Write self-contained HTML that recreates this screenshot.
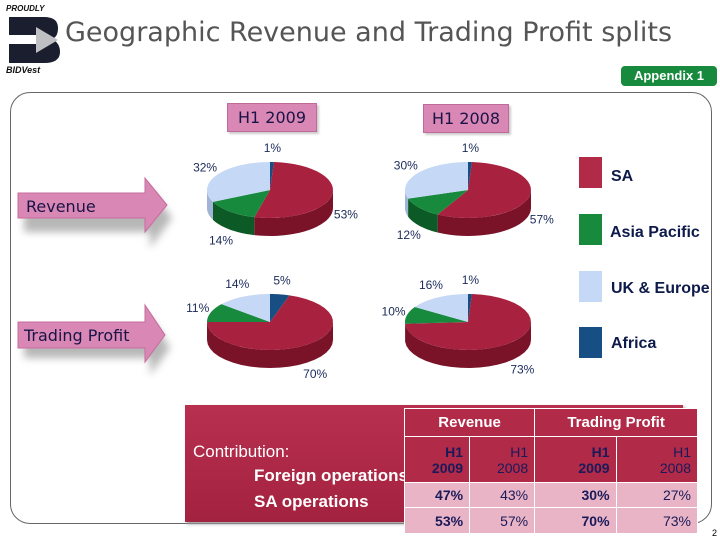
<!DOCTYPE html>
<html><head><meta charset="utf-8"><style>
body{margin:0;width:720px;height:540px;background:#fff;position:relative;overflow:hidden;font-family:"Liberation Sans",sans-serif}
.abs{position:absolute}
.tag{position:absolute;background:#d987b4;border:1px solid #c06a98;color:#1a1446;font-family:"DejaVu Sans",sans-serif;font-size:16px;text-align:center;box-shadow:2px 2px 2px #ccc}
table{border-collapse:collapse}
td{border:1px solid #fff;font-size:14px;color:#1a1a5a;text-align:right;padding:0 6px}
</style></head><body>
<div class="abs" style="left:6px;top:4px;width:56px;height:72px">
 <div style="font:italic bold 8px 'Liberation Sans';color:#111">PROUDLY</div>
 <svg width="56" height="52" style="display:block"><path d="M3,4 H38 Q52,4 52,15 Q52,24 46,26 Q54,30 54,39 Q54,50 38,50 H3 V31 H30 V22 H3 Z" fill="#1a1e2e"/><polygon points="30,14 52,27 30,40" fill="#bfbfc4"/></svg>
 <div style="font:italic bold 9px 'Liberation Sans';color:#111">BIDVest</div>
</div>
<div class="abs" style="left:65px;top:17px;font-family:'DejaVu Sans',sans-serif;font-size:27px;color:#555;white-space:nowrap">Geographic Revenue and Trading Profit splits</div>
<div class="abs" style="left:621px;top:66px;width:96px;height:20px;background:#178a3e;border-radius:4px;color:#fff;font-weight:bold;font-size:13px;text-align:center;line-height:20px">Appendix 1</div>
<div class="abs" style="left:10px;top:92px;width:700px;height:430px;border:1px solid #666;border-radius:20px"></div>
<div class="tag" style="left:227px;top:103px;width:88px;height:27px;line-height:27px">H1 2009</div>
<div class="tag" style="left:423px;top:104px;width:84px;height:27px;line-height:27px">H1 2008</div>

<svg class="abs" style="left:0;top:0" width="720" height="540">
 <defs><filter id="sh"><feGaussianBlur stdDeviation="4"/></filter></defs>
 <polygon points="24,203 150,203 150,188 172,218 150,248 150,232 24,232" fill="#999" filter="url(#sh)" opacity=".7"/>
 <polygon points="18,193 145,193 145,178 167,205 145,232 145,218 18,218" fill="#d987b4" stroke="#c56d9c"/>
 <polygon points="24,332 150,332 150,316 170,348 150,375 150,358 24,358" fill="#999" filter="url(#sh)" opacity=".7"/>
 <polygon points="18,322 145,322 145,305 165,335 145,362 145,348 18,348" fill="#d987b4" stroke="#c56d9c"/>
</svg>
<div class="abs" style="left:26px;top:197px;font-family:'DejaVu Sans',sans-serif;font-size:16px;color:#1a1446">Revenue</div>
<div class="abs" style="left:24px;top:326px;font-family:'DejaVu Sans',sans-serif;font-size:16px;color:#1a1446">Trading Profit</div>

<svg id="pies" class="abs" style="left:0;top:0" width="720" height="540"></svg>

<div class="abs" style="left:579px;top:157px">
 <div style="position:absolute;top:0;width:23px;height:31px;background:#b12a48"></div>
 <div style="position:absolute;left:32px;top:11px;font-weight:bold;font-size:16px;color:#0d1a4a">SA</div>
 <div style="position:absolute;top:57px;width:23px;height:31px;background:#178a3e"></div>
 <div style="position:absolute;left:31px;top:67px;font-weight:bold;font-size:16px;color:#0d1a4a;white-space:nowrap">Asia Pacific</div>
 <div style="position:absolute;top:114px;width:23px;height:31px;background:#c5d8f5"></div>
 <div style="position:absolute;left:32px;top:123px;font-weight:bold;font-size:16px;color:#0d1a4a;white-space:nowrap">UK &amp; Europe</div>
 <div style="position:absolute;top:170px;width:23px;height:31px;background:#174f85"></div>
 <div style="position:absolute;left:32px;top:178px;font-weight:bold;font-size:16px;color:#0d1a4a">Africa</div>
</div>

<div class="abs" style="left:185px;top:405px;width:498px;height:117px;background:linear-gradient(#b8304f,#a3223f);box-shadow:2px 2px 3px #999">
 <div style="position:absolute;left:8px;top:37px;color:#fff;font-size:17px">Contribution:</div>
 <div style="position:absolute;left:69px;top:61px;color:#fff;font-size:17px;font-weight:bold;white-space:nowrap">Foreign operations</div>
 <div style="position:absolute;left:69px;top:87px;color:#fff;font-size:17px;font-weight:bold">SA operations</div>
</div>
<table class="abs" style="left:404px;top:408px;width:294px">
 <tr style="height:28px;background:#b12a48"><td colspan="2" style="text-align:center;color:#fff;font-weight:bold;font-size:15px">Revenue</td><td colspan="2" style="text-align:center;color:#fff;font-weight:bold;font-size:15px">Trading Profit</td></tr>
 <tr style="height:46px;background:#b12a48"><td style="font-weight:bold">H1<br>2009</td><td>H1<br>2008</td><td style="font-weight:bold">H1<br>2009</td><td>H1<br>2008</td></tr>
 <tr style="height:25px;background:#e9b5c6"><td style="font-weight:bold">47%</td><td>43%</td><td style="font-weight:bold">30%</td><td>27%</td></tr>
 <tr style="height:26px;background:#e9b5c6"><td style="font-weight:bold">53%</td><td>57%</td><td style="font-weight:bold">70%</td><td>73%</td></tr>
</table>
<div class="abs" style="left:712px;top:528px;font-size:9px">2</div>

<script>
// slice order clockwise from 12 o'clock: Africa, SA, Asia Pacific, UK & Europe
const regions = ["Africa","SA","Asia Pacific","UK & Europe"];
const revenue2009 = [1,53,14,32];
const revenue2008 = [1,57,12,30];
const profit2009 = [5,70,11,14];
const profit2008 = [1,73,10,16];
const topCol = ["#174f85","#a8223f","#178a3e","#c5d8f5"];
const sideCol = ["#0e3560","#7a1228","#0c5a26","#9fb4d6"];
const svg = document.getElementById('pies');
const NS = "http://www.w3.org/2000/svg";
function pt(cx,cy,rx,ry,a){return [cx+rx*Math.sin(a), cy-ry*Math.cos(a)];}
function pie(vals,cx,cy,name){
  const rx=63, ry=28, d=18, tot=vals.reduce((a,b)=>a+b,0);
  let a0=0; const sl=[];
  vals.forEach((v,i)=>{const a1=a0+v/tot*2*Math.PI; sl.push([a0,a1,i]); a0=a1;});
  sl.forEach(([s,e,i])=>{
    const lo=Math.max(s,Math.PI/2), hi=Math.min(e,3*Math.PI/2);
    if(hi<=lo) return;
    let p="", n=20;
    for(let k=0;k<=n;k++){const a=lo+(hi-lo)*k/n;const q=pt(cx,cy,rx,ry,a);p+=(k?"L":"M")+q[0]+","+q[1];}
    for(let k=n;k>=0;k--){const a=lo+(hi-lo)*k/n;const q=pt(cx,cy,rx,ry,a);p+="L"+q[0]+","+(q[1]+d);}
    const el=document.createElementNS(NS,'path');
    el.setAttribute('d',p+"Z");el.setAttribute('fill',sideCol[i]);
    
    
    svg.appendChild(el);
  });
  sl.forEach(([s,e,i])=>{
    const p1=pt(cx,cy,rx,ry,s);
    let p="M"+cx+","+cy+"L"+p1[0]+","+p1[1];
    const n=30;for(let k=1;k<=n;k++){const q=pt(cx,cy,rx,ry,s+(e-s)*k/n);p+="L"+q[0]+","+q[1];}
    const el=document.createElementNS(NS,'path');
    el.setAttribute('d',p+"Z");el.setAttribute('fill',topCol[i]);
    
    
    svg.appendChild(el);
    const m=(s+e)/2, lp=pt(cx,cy,rx*1.22,ry*1.5,m);
    const t=document.createElementNS(NS,'text');
    t.setAttribute('x',lp[0]);t.setAttribute('y',lp[1]+(Math.cos(m)<0?d:0)+4);
    t.setAttribute('text-anchor','middle');t.setAttribute('font-size','12');
    t.setAttribute('font-family','Liberation Sans, sans-serif');t.setAttribute('fill','#1a2a5a');
    t.textContent=vals[i]+"%";
    
    
    svg.appendChild(t);
  });
}
pie(revenue2009,270,190,'revenue-2009');
pie(revenue2008,468,190,'revenue-2008');
pie(profit2009,270,322,'profit-2009');
pie(profit2008,468,322,'profit-2008');
</script>
</body></html>
